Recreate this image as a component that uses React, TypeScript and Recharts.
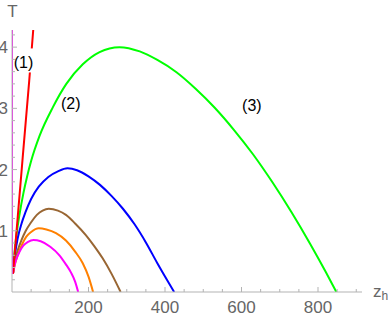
import React from "react";
import { LineChart, Line, XAxis, YAxis, ReferenceDot } from "recharts";

// [z_h, T]
const magentaVertical = [[0, 0.3], [0, 4.28]];
const redLine = [[2.6, 0.3], [28, 2.2], [45, 3.45], [55.5, 4.28]];
const greenCurve = [
  [2.6, 0.3], [6, 0.6], [12, 0.95], [20, 1.28], [30, 1.62], [40, 1.9], [50, 2.14], [72, 2.55],
  [107, 3.02], [142, 3.4], [185, 3.72], [229, 3.92], [281, 4.0], [334, 3.93], [380, 3.79],
  [430, 3.59], [480, 3.32], [530, 3.01], [580, 2.65], [630, 2.25], [680, 1.8], [730, 1.31],
  [780, 0.78], [820, 0.33], [848, 0],
];
const blueCurve = [
  [2.6, 0.3], [8, 0.62], [15, 0.88], [25, 1.12], [35, 1.3], [50, 1.52], [70, 1.72], [95, 1.88],
  [120, 1.97], [145, 2.02], [170, 1.99], [200, 1.89], [230, 1.75], [260, 1.57], [290, 1.36],
  [320, 1.11], [350, 0.81], [380, 0.47], [405, 0.2], [424, 0],
];
const brownCurve = [
  [2.6, 0.3], [8, 0.52], [15, 0.68], [25, 0.85], [36, 1.0], [50, 1.14], [65, 1.26], [80, 1.33],
  [96, 1.36], [120, 1.33], [141, 1.26], [165, 1.12], [193, 0.93], [215, 0.75], [237, 0.55],
  [260, 0.3], [284, 0],
];
const orangeCurve = [
  [2.6, 0.3], [8, 0.46], [15, 0.6], [25, 0.76], [37, 0.9], [50, 0.98], [70, 1.04], [90, 1.02],
  [115, 0.96], [141, 0.84], [165, 0.66], [185, 0.47], [200, 0.25], [212, 0],
];
const magentaCurve = [
  [2.6, 0.3], [6, 0.42], [12, 0.55], [20, 0.66], [30, 0.76], [42, 0.82], [56, 0.85], [75, 0.83],
  [100, 0.74], [124, 0.6], [140, 0.46], [154, 0.32], [165, 0.17], [173, 0],
];

const xTicks = [50, 100, 150, 200, 250, 300, 350, 400, 450, 500, 550, 600, 650, 700, 750, 800, 850, 900];
const xMajor = [200, 400, 600, 800];
const yTicks = [
  0.2, 0.4, 0.6, 0.8, 1, 1.2, 1.4, 1.6, 1.8, 2, 2.2, 2.4, 2.6, 2.8, 3, 3.2, 3.4, 3.6, 3.8, 4, 4.2,
];
const yMajor = [1, 2, 3, 4];

const curveLabels = [
  { z: 30, T: 3.75, text: "(1)", bg: true },
  { z: 153.5, T: 3.08, text: "(2)", bg: false },
  { z: 627, T: 3.05, text: "(3)", bg: false },
];

const pts = (a: number[][]) => a.map(([z, T]) => ({ z, T }));

const axisColor = "#b3b3b3";
const textColor = "#666666";
const font = "'Liberation Sans', Arial, sans-serif";

function XTick({ x, y, payload }: any) {
  const v = payload.value;
  const major = xMajor.includes(v);
  return (
    <g>
      <line x1={x} x2={x} y1={y} y2={y - (major ? 5 : 3)} stroke={axisColor} />
      {major && (
        <text x={x} y={y + 21} textAnchor="middle" fontSize={17} fill={textColor} fontFamily={font}>
          {v}
        </text>
      )}
    </g>
  );
}

function YTick({ x, y, payload }: any) {
  const v = payload.value;
  const major = yMajor.includes(v);
  return (
    <g>
      <line x1={x} x2={x + (major ? 5 : 3)} y1={y} y2={y} stroke={axisColor} />
      {major && (
        <text x={x - 4} y={y + 6} textAnchor="end" fontSize={17} fill={textColor} fontFamily={font}>
          {v}
        </text>
      )}
    </g>
  );
}

function CurveLabel({ cx, cy, text, bg }: any) {
  return (
    <g>
      {bg && <rect x={cx - 9} y={cy - 14} width={19} height={24} fill="#ffffff" />}
      <text x={cx} y={cy + 6} textAnchor="middle" fontSize={16} fill="#000" fontFamily={font}>
        {text}
      </text>
    </g>
  );
}

export default function App() {
  const lines = [
    { data: greenCurve, color: "#00ff00", type: "monotone" },
    { data: blueCurve, color: "#0000ff", type: "monotone" },
    { data: brownCurve, color: "#996633", type: "monotone" },
    { data: orangeCurve, color: "#ff8000", type: "monotone" },
    { data: magentaCurve, color: "#ff00ff", type: "monotone" },
    { data: redLine, color: "#ff0000", type: "linear" },
    { data: magentaVertical, color: "#ff00ff", type: "linear" },
  ];
  return (
    <div style={{ position: "absolute", left: 0, top: 0, background: "#fff" }}>
      <LineChart width={388} height={319} margin={{ top: 30, right: 26, left: 0, bottom: 0 }}>
        <XAxis
          dataKey="z"
          type="number"
          domain={[0, 915]}
          ticks={xTicks}
          interval={0}
          height={27}
          tickSize={0}
          tickMargin={0}
          tickLine={false}
          axisLine={{ stroke: axisColor }}
          tick={<XTick />}
          allowDataOverflow
          label={{
            content: ({ viewBox }: any) => (
              <text
                x={viewBox.x + viewBox.width + 11}
                y={viewBox.y + 5}
                fill={textColor}
                fontFamily={font}
                fontSize={17}
              >
                z<tspan fontSize={12} dy={3}>h</tspan>
              </text>
            ),
          }}
        />
        <YAxis
          dataKey="T"
          type="number"
          domain={[0, 4.28]}
          ticks={yTicks}
          interval={0}
          width={12}
          tickSize={0}
          tickMargin={0}
          tickLine={false}
          axisLine={{ stroke: axisColor }}
          tick={<YTick />}
          allowDataOverflow
          label={{
            content: ({ viewBox }: any) => (
              <text
                x={viewBox.x + viewBox.width + 0.5}
                y={viewBox.y - 12.7}
                textAnchor="middle"
                fill={textColor}
                fontFamily={font}
                fontSize={17}
              >
                T
              </text>
            ),
          }}
        />
        {lines.map((l, i) => (
          <Line
            key={i}
            data={pts(l.data)}
            dataKey="T"
            type={l.type as any}
            stroke={l.color}
            strokeWidth={2}
            dot={false}
            activeDot={false}
            isAnimationActive={false}
          />
        ))}
        {curveLabels.map((c) => (
          <ReferenceDot
            key={c.text}
            x={c.z}
            y={c.T}
            r={0}
            shape={(p: any) => <CurveLabel cx={p.cx} cy={p.cy} text={c.text} bg={c.bg} />}
          />
        ))}
      </LineChart>
    </div>
  );
}
